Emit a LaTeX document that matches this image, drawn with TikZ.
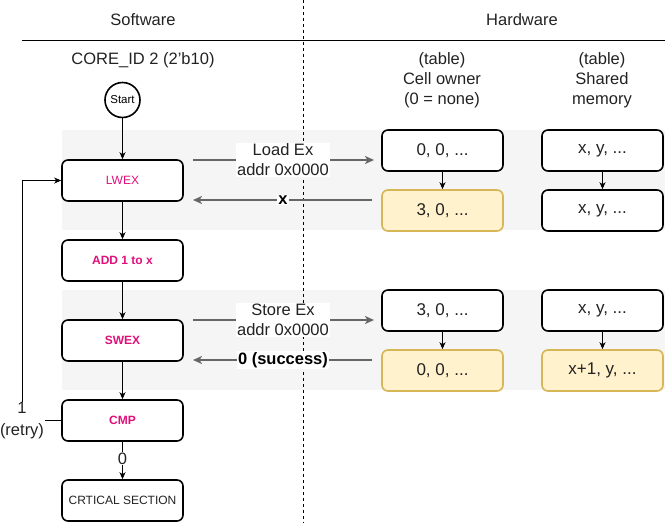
\documentclass[tikz,border=0pt]{standalone}
\usepackage{fontspec}
\setmainfont{Liberation Sans}
\usetikzlibrary{arrows.meta}
\definecolor{bandgray}{HTML}{F5F5F5}
\definecolor{pinktxt}{HTML}{E0107A}
\definecolor{yfill}{HTML}{FFF2CC}
\definecolor{ydraw}{HTML}{D6B656}
\definecolor{linegray}{HTML}{666666}
\definecolor{txtgray}{HTML}{222222}
\tikzset{
  flowbox/.style={draw=black, line width=1.6pt, rounded corners=6pt, fill=white, minimum width=121pt, minimum height=41pt, inner sep=0pt, font=\fontsize{12}{14}\selectfont},
  swlabel/.style={text=pinktxt},
  hwbox/.style={draw=black, line width=1.6pt, rounded corners=6pt, fill=white, minimum width=121pt, minimum height=41pt, inner sep=0pt, text=txtgray, font=\fontsize{17}{20}\selectfont},
  hwnew/.style={hwbox, draw=ydraw, fill=yfill},
  flow/.style={draw=black, line width=0.9pt, -{Stealth[length=7pt,width=6pt,inset=2pt]}},
  bus/.style={draw=linegray, line width=1.6pt},
  busarrow/.style={bus, -{Stealth[length=9pt,width=8pt,inset=2.5pt]}},
  title/.style={font=\fontsize{16.5}{20}\selectfont, text=txtgray, align=center},
  buslabel/.style={fill=white, inner sep=1pt, font=\fontsize{16.5}{20}\selectfont, align=center, text=txtgray},
}
\begin{document}
\begin{tikzpicture}[x=1pt,y=-1pt]
\useasboundingbox (0,0) rectangle (665,523);
% bands
\fill[bandgray] (62,130) rectangle (665,230);
\fill[bandgray] (62,290) rectangle (665,390);
% headings
\node[title] (sw) at (143,20) {Software};
\node[title] (hw) at (522,20) {Hardware};
\draw[line width=1pt] (22,40) -- (665,40);
\draw[dashed, line width=0.6pt] (303,0) -- (303,523);
\node[title] (core) at (143,60) {CORE\_ID 2 (2'b10)};
\node[title] (t1) at (442,80) {(table)\\Cell owner\\(0 = none)};
\node[title] (t2) at (602,80) {(table)\\Shared\\memory};
% start
\node[draw=black, line width=1.6pt, circle, minimum size=35pt, inner sep=0pt, font=\fontsize{11.5}{13}\selectfont] (start) at (122.5,100) {Start};
% flow boxes
\node[flowbox, swlabel] (lwex) at (122.5,180.5) {LWEX};
\node[flowbox, swlabel, font=\fontsize{12}{14}\selectfont\bfseries] (add) at (122.5,260.5) {ADD 1 to x};
\node[flowbox, swlabel, font=\fontsize{12}{14}\selectfont\bfseries] (swex) at (122.5,340.5) {SWEX};
\node[flowbox, swlabel, font=\fontsize{12}{14}\selectfont\bfseries] (cmp) at (122.5,420.5) {CMP};
\node[flowbox, text=txtgray] (crit) at (122.5,500.5) {CRTICAL SECTION};
\draw[flow] (start) -- (lwex);
\draw[flow] (lwex) -- (add);
\draw[flow] (add) -- (swex);
\draw[flow] (swex) -- (cmp);
\draw[flow] (cmp) -- node[fill=white, inner sep=1pt, font=\fontsize{16.5}{18}\selectfont, text=txtgray, pos=0.45] (zero) {0} (crit);
\coordinate (rb) at (22,420.5);
\coordinate (rt) at (22,180.5);
\draw[flow] (cmp.west) -- (rb) -- (rt) -- (lwex.west);
\node[fill=white, inner sep=1pt, font=\fontsize{16.5}{22}\selectfont, align=center, text=txtgray] (retry) at (22,421) {1\\(retry)};
% hardware boxes band 1
\node[hwbox] (co1) at (442.5,150.5) {0, 0, ...};
\node[hwnew] (co2) at (442.5,210.5) {3, 0, ...};
\node[hwbox] (sm1) at (602.5,150.5) {x, y, ...};
\node[hwbox] (sm2) at (602.5,210.5) {x, y, ...};
\draw[flow] (co1) -- (co2);
\draw[flow] (sm1) -- (sm2);
% hardware boxes band 2
\node[hwbox] (co3) at (442.5,310.5) {3, 0, ...};
\node[hwnew] (co4) at (442.5,370.5) {0, 0, ...};
\node[hwbox] (sm3) at (602.5,310.5) {x, y, ...};
\node[hwnew] (sm4) at (602.5,370.5) {x+1, y, ...};
\draw[flow] (co3) -- (co4);
\draw[flow] (sm3) -- (sm4);
% bus arrows band 1
\coordinate (l1a) at (193,160);
\coordinate (l1b) at (374,160);
\coordinate (r1a) at (372,200);
\coordinate (r1b) at (193,200);
\draw[busarrow] (l1a) -- (l1b);
\node[buslabel] (loadlbl) at (283,160) {Load Ex\\addr 0x0000};
\draw[busarrow] (r1a) -- (r1b);
\node[buslabel, font=\fontsize{16.5}{20}\selectfont\bfseries, text=black] (xlbl) at (283,200) {x};
% bus arrows band 2
\coordinate (l2a) at (193,320);
\coordinate (l2b) at (374,320);
\coordinate (r2a) at (372,360);
\coordinate (r2b) at (193,360);
\draw[busarrow] (l2a) -- (l2b);
\node[buslabel] (storelbl) at (283,320) {Store Ex\\addr 0x0000};
\draw[busarrow] (r2a) -- (r2b);
\node[buslabel, font=\fontsize{16.5}{20}\selectfont\bfseries, text=black] (succ) at (283,360) {0 (success)};
\end{tikzpicture}
\end{document}
